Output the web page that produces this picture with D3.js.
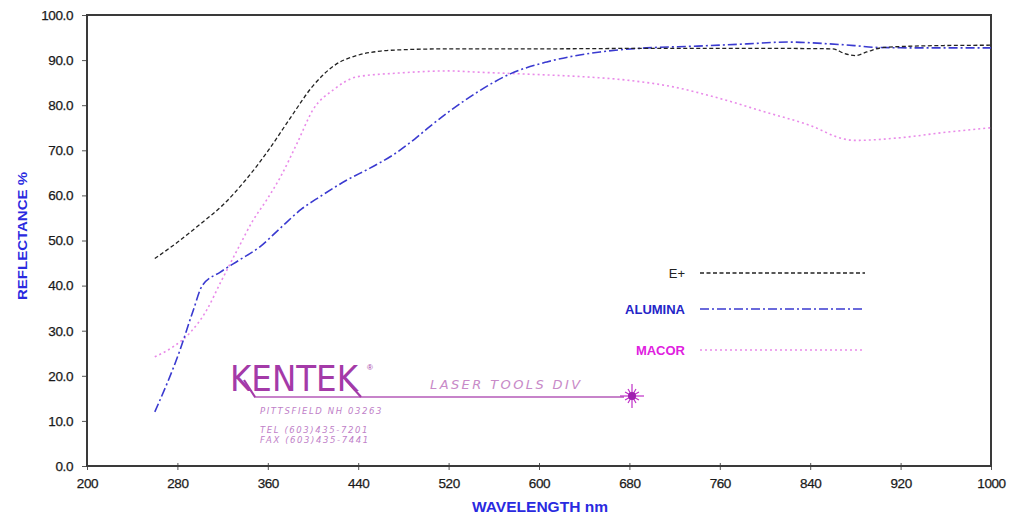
<!DOCTYPE html>
<html>
<head>
<meta charset="utf-8">
<script src="https://cdn.jsdelivr.net/npm/d3@7"></script>
<style>
  html, body { margin: 0; padding: 0; background: #fff; }
  svg { display: block; }
</style>
</head>
<body>
<svg id="chart" width="1021" height="516"></svg>
<script>
// ---- data ----
const xTicks = [200, 280, 360, 440, 520, 600, 680, 760, 840, 920, 1000];
const yTicks = [0, 10, 20, 30, 40, 50, 60, 70, 80, 90, 100];

const ePlusWl = [260, 280, 300, 320, 340, 360, 380, 400, 420, 440, 460, 480, 520, 600, 700, 800, 860, 870, 880, 890, 905, 950, 1000];
const ePlusR  = [46, 49.6, 53.6, 57.8, 63.3, 69.8, 77.2, 84.3, 89, 91.1, 92, 92.3, 92.5, 92.5, 92.6, 92.6, 92.5, 91.5, 91, 91.8, 92.8, 93.2, 93.3];

const aluminaWl = [260, 282, 294, 302, 318, 335, 353, 370, 390, 406, 430, 450, 471, 490, 503, 520, 548, 575, 607, 654, 695, 740, 784, 820, 857, 880, 900, 940, 1000];
const aluminaR  = [12, 25.5, 34.5, 40, 43, 45.7, 48.6, 52.5, 57, 59.7, 63.4, 66, 69, 72.5, 75.2, 78.5, 83.3, 87, 89.6, 91.8, 92.7, 93.1, 93.6, 94, 93.6, 93.2, 92.8, 92.7, 92.7];

const macorWl = [260, 276, 291, 306, 318, 333, 347, 359, 371, 386, 400, 418, 439, 474, 520, 548, 598, 640, 680, 720, 760, 800, 840, 870, 880, 920, 960, 1000];
const macorR  = [24.2, 26.4, 29.5, 34.6, 40.6, 47.9, 54.5, 59, 64, 71.6, 79, 83.4, 86.3, 87.1, 87.6, 87.3, 86.8, 86.3, 85.5, 84, 81.5, 78.5, 75.5, 72.5, 72.2, 72.8, 74, 75];

const seriesNames = ["E+", "ALUMINA", "MACOR"];

// ---- layout ----
const svg = d3.select("#chart");
const L = 87, R = 991, T = 15, B = 466;
const x = d3.scaleLinear().domain([200, 1000]).range([L, R]);
const y = d3.scaleLinear().domain([0, 100]).range([B, T]);

const styles = [
  { stroke: "#222", dash: "4,2.5", width: 1.3, text: "#222" },
  { stroke: "#3a3ad0", dash: "9,3,2,3", width: 1.6, text: "#2424c8" },
  { stroke: "#e98ae9", dash: "2,3", width: 1.6, text: "#e020e0" }
];

// ---- axes ----
const gx = svg.append("g").attr("transform", `translate(0,${B})`)
  .call(d3.axisBottom(x).tickValues(xTicks).tickSize(4).tickSizeOuter(0).tickPadding(8).tickFormat(d3.format("d")));
const gy = svg.append("g").attr("transform", `translate(${L},0)`)
  .call(d3.axisLeft(y).tickValues(yTicks).tickSize(5).tickSizeOuter(0).tickPadding(9).tickFormat(d3.format(".1f")));
[gx, gy].forEach(g => {
  g.select(".domain").remove();
  g.selectAll("line").attr("stroke", "#555").attr("stroke-width", 1);
  g.selectAll("text").attr("font-family", "Liberation Sans, Arial, sans-serif")
    .attr("font-size", 13.5).attr("fill", "#1a1a1a").attr("letter-spacing", "-0.4")
    .attr("stroke", "#1a1a1a").attr("stroke-width", 0.25);
});
gx.selectAll("line").attr("y1", -3);

// frame
svg.append("rect").attr("x", L).attr("y", T).attr("width", R - L).attr("height", B - T)
  .attr("fill", "none").attr("stroke", "#3a3a3a").attr("stroke-width", 2);

// axis titles
svg.append("text").attr("transform", `translate(27,236) rotate(-90)`)
  .attr("text-anchor", "middle").attr("font-family", "Liberation Sans, Arial, sans-serif")
  .attr("font-weight", "bold").attr("font-size", 13.5).attr("fill", "#2a2ae0")
  .attr("textLength", 128).attr("lengthAdjust", "spacingAndGlyphs")
  .text("REFLECTANCE %");
svg.append("text").attr("x", 540).attr("y", 512)
  .attr("text-anchor", "middle").attr("font-family", "Liberation Sans, Arial, sans-serif")
  .attr("font-weight", "bold").attr("font-size", 14).attr("fill", "#2a2ae0")
  .attr("textLength", 136).attr("lengthAdjust", "spacingAndGlyphs")
  .text("WAVELENGTH nm");

// ---- lines ----
const line = d3.line().x(d => x(d[0])).y(d => y(d[1])).curve(d3.curveMonotoneX);
const series = [
  d3.zip(ePlusWl, ePlusR),
  d3.zip(aluminaWl, aluminaR),
  d3.zip(macorWl, macorR)
];
[2, 1, 0].forEach(i => {
  svg.append("path").datum(series[i]).attr("d", line)
    .attr("fill", "none").attr("stroke", styles[i].stroke)
    .attr("stroke-width", styles[i].width).attr("stroke-dasharray", styles[i].dash);
});

// ---- legend ----
const legY = [273, 309, 350];
seriesNames.forEach((n, i) => {
  svg.append("text").attr("x", 685).attr("y", legY[i] + 5).attr("text-anchor", "end")
    .attr("font-family", "Liberation Sans, Arial, sans-serif")
    .attr("font-weight", i === 0 ? "normal" : "bold").attr("font-size", 13)
    .attr("fill", styles[i].text).text(n);
  svg.append("line").attr("x1", 700).attr("x2", 865).attr("y1", legY[i]).attr("y2", legY[i])
    .attr("stroke", styles[i].stroke).attr("stroke-width", styles[i].width)
    .attr("stroke-dasharray", styles[i].dash);
});

// ---- KENTEK logo ----
const logo = svg.append("g");
logo.append("text").attr("x", 230).attr("y", 391)
  .attr("font-family", "DejaVu Sans, sans-serif").attr("font-size", 35)
  .attr("fill", "#a43aa8").attr("textLength", 128).attr("lengthAdjust", "spacingAndGlyphs")
  .text("KENTEK");
logo.append("text").attr("x", 367).attr("y", 370)
  .attr("font-family", "Liberation Sans, sans-serif").attr("font-size", 8).attr("fill", "#a43aa8").text("®");
logo.append("line").attr("x1", 254).attr("x2", 624).attr("y1", 397).attr("y2", 397)
  .attr("stroke", "#b45ab8").attr("stroke-width", 1.6);
logo.append("line").attr("x1", 244).attr("x2", 255).attr("y1", 380).attr("y2", 397)
  .attr("stroke", "#a43aa8").attr("stroke-width", 2.2);
logo.append("line").attr("x1", 346).attr("x2", 361).attr("y1", 380).attr("y2", 397)
  .attr("stroke", "#a43aa8").attr("stroke-width", 2.2);
logo.append("text").attr("x", 430).attr("y", 389)
  .attr("font-family", "DejaVu Sans, sans-serif").attr("font-style", "italic").attr("font-size", 13)
  .attr("fill", "#c88ac8").attr("letter-spacing", "2.4").text("LASER TOOLS DIV");
const small = [["PITTSFIELD NH 03263", 414], ["TEL (603)435-7201", 433], ["FAX (603)435-7441", 443]];
small.forEach(s => {
  logo.append("text").attr("x", 260).attr("y", s[1])
    .attr("font-family", "DejaVu Sans, sans-serif").attr("font-size", 8.5).attr("font-style", "italic")
    .attr("fill", "#c080c8").attr("letter-spacing", "1.6").text(s[0]);
});
// star
const sx = 632, sy = 396;
d3.range(12).forEach(k => {
  const a = k * Math.PI / 6;
  const r = k % 3 === 0 ? 12 : 8;
  logo.append("line").attr("x1", sx).attr("y1", sy)
    .attr("x2", sx + r * Math.cos(a)).attr("y2", sy + r * Math.sin(a))
    .attr("stroke", "#c030c8").attr("stroke-width", 1.2);
});
logo.append("circle").attr("cx", sx).attr("cy", sy).attr("r", 4).attr("fill", "#a020b0");
</script>
</body>
</html>
